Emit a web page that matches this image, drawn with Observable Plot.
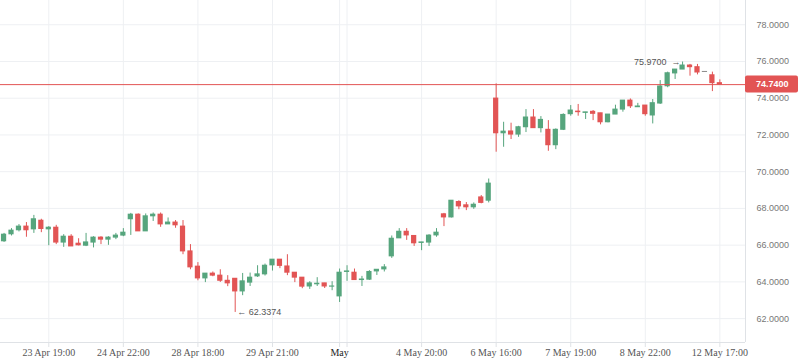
<!DOCTYPE html>
<html><head><meta charset="utf-8">
<script src="https://cdn.jsdelivr.net/npm/d3@7"></script>
<script src="https://cdn.jsdelivr.net/npm/@observablehq/plot@0.6"></script>
<style>html,body{margin:0;padding:0;background:#fff;}</style>
</head><body><div id="chart"></div>
<script>
const open = [66.21,66.59,66.81,67.01,66.86,67.33,66.86,66.95,66.14,66.46,66.08,65.97,66.14,66.41,66.30,66.41,66.52,67.41,67.66,66.75,67.57,67.66,67.13,67.23,67.01,65.66,64.83,64.19,64.45,64.34,64.06,64.17,63.48,63.96,64.30,64.41,64.90,65.21,64.84,64.50,64.23,63.75,63.87,63.92,63.74,63.21,64.54,64.50,64.10,64.12,64.57,64.68,65.39,66.37,66.73,66.50,66.12,66.14,66.53,67.68,67.51,68.35,68.17,68.06,68.60,68.42,73.98,72.09,72.19,72.02,72.42,72.95,72.37,72.28,71.44,72.28,73.13,73.27,73.20,73.26,73.18,72.69,73.11,73.38,73.87,73.51,73.60,73.06,73.71,74.65,75.35,75.56,75.78,75.69,75.43,75.25,74.82];
const high = [66.64,66.90,67.12,67.23,67.62,67.41,67.01,67.08,66.57,66.57,66.35,66.64,66.46,66.46,66.46,66.64,66.90,67.73,67.70,67.70,67.75,67.75,67.48,67.34,67.34,66.03,65.05,64.45,64.54,64.66,64.34,64.17,64.46,64.48,64.88,64.97,65.21,65.21,65.48,64.50,64.23,64.01,64.23,63.92,64.01,64.70,64.88,64.70,64.30,64.61,64.66,64.94,66.50,66.90,66.90,66.50,66.15,66.57,66.90,67.73,68.42,68.42,68.32,68.30,68.70,69.60,74.78,72.69,72.64,72.47,73.38,73.38,73.00,72.78,72.33,73.15,73.60,73.66,73.23,73.33,73.18,73.11,73.62,73.87,73.96,73.72,73.60,73.93,74.96,75.42,75.56,75.97,75.84,75.84,75.43,75.42,75.00];
const low = [66.15,66.50,66.72,66.43,66.64,66.68,65.97,66.03,65.88,65.93,65.96,65.92,65.85,66.03,65.99,66.30,66.46,66.53,66.75,66.75,67.29,66.97,67.13,66.92,65.48,64.66,64.06,63.96,64.28,63.97,63.74,62.3374,63.25,63.75,64.24,64.32,64.59,64.72,64.34,63.96,63.63,63.59,63.75,63.64,63.52,62.88,64.03,64.10,63.75,64.08,64.35,64.54,65.28,66.37,66.26,65.93,65.70,65.93,66.43,67.01,67.48,67.93,67.88,67.95,68.25,68.30,71.06,71.33,71.75,71.87,72.13,72.37,72.11,71.11,71.20,72.24,73.02,73.02,72.84,72.78,72.55,72.66,73.11,73.24,73.44,73.51,73.02,72.60,73.66,74.57,75.02,75.56,75.20,75.27,75.43,74.36,74.74];
const close = [66.57,66.79,67.01,66.81,67.41,66.88,66.95,66.14,66.46,65.93,65.99,66.15,66.41,66.30,66.41,66.52,66.68,67.66,66.75,67.57,67.66,67.13,67.23,67.08,65.66,64.79,64.19,64.45,64.34,64.06,63.92,63.48,64.03,64.23,64.41,64.88,65.21,64.87,64.50,64.23,63.74,63.92,63.90,63.75,63.75,64.50,64.57,64.10,64.13,64.54,64.66,64.79,66.35,66.73,66.53,66.10,66.15,66.52,66.68,67.51,68.42,68.11,68.06,68.20,68.30,69.35,72.09,72.18,72.02,72.42,72.95,72.37,72.82,71.44,72.28,73.09,73.33,73.24,73.23,73.15,72.69,73.11,73.38,73.87,73.56,73.55,73.13,73.73,74.64,75.36,75.56,75.78,75.69,75.40,75.43,74.82,74.74];

const xTickIdx = [6,16,26,36,46,56,66,76,86,96];
const xTickLabels = ["23 Apr 19:00","24 Apr 22:00","28 Apr 18:00","29 Apr 21:00","","4 May 20:00","6 May 16:00","7 May 19:00","8 May 22:00","12 May 17:00"];
const monthIdx = [45];
const monthLabels = ["May"];
const yTicks = [62,64,66,68,70,72,74,76,78];
const lastPrice = 74.74;
const lowNote = {i: 31, v: 62.3374};
const highNote = {i: 91, v: 75.97};

const GREEN = "#56a57d", RED = "#e25454", GRAY = "#8a8a8a", GRID = "#eef0f3", AXIS = "#dfe2e6";
const xMin = -0.477, xMax = 99.44, yMin = 60.70, yMax = 79.32;

const candles = open.map((o, i) => ({i, o, h: high[i], l: low[i], c: close[i]}));
const up = candles.filter(d => d.c > d.o);
const down = candles.filter(d => d.c < d.o);
const flat = candles.filter(d => d.c === d.o);

function candleMarks(data, color) {
  return [
    Plot.ruleX(data, {x: "i", y1: "l", y2: "h", stroke: color, strokeWidth: 1}),
    Plot.rect(data, {x1: d => d.i - 0.35, x2: d => d.i + 0.35, y1: d => Math.min(d.o, d.c), y2: d => Math.max(d.o, d.c), fill: color, insetTop: -0.5, insetBottom: -0.5})
  ];
}

const labelFont = "Liberation Serif, Times New Roman, serif";
const numFont = "Liberation Sans, Arial, sans-serif";

const chart = Plot.plot({
  width: 798, height: 363,
  marginLeft: 0, marginRight: 53, marginTop: 0, marginBottom: 21,
  x: {domain: [xMin, xMax]},
  y: {domain: [yMin, yMax], axis: null},
  style: {background: "white", overflow: "visible"},
  marks: [
    Plot.ruleY(yTicks, {stroke: GRID}),
    Plot.ruleX(xTickIdx.concat(monthIdx), {stroke: GRID}),
    Plot.ruleX([xMax], {stroke: AXIS}),
    Plot.ruleY([yMin], {stroke: AXIS}),
    Plot.axisX({ticks: xTickIdx.concat(monthIdx), tickSize: 5, tickFormat: () => "", stroke: AXIS, label: null}),
    ...candleMarks(up, GREEN),
    ...candleMarks(down, RED),
    ...candleMarks(flat, GRAY),
    Plot.ruleY([lastPrice], {stroke: RED, strokeWidth: 1}),
    Plot.text(xTickIdx.map((d, k) => ({i: d, t: xTickLabels[k]})), {x: "i", text: "t", frameAnchor: "bottom", dy: 13, fill: "#555", fontSize: 10, fontFamily: labelFont}),
    Plot.text(monthIdx.map((d, k) => ({i: d, t: monthLabels[k]})), {x: "i", text: "t", frameAnchor: "bottom", dy: 13, fill: "#222", fontSize: 10, fontFamily: labelFont}),
    Plot.text(yTicks, {y: d => d, text: d => d.toFixed(4), frameAnchor: "right", textAnchor: "start", dx: 11, fill: "#777", fontSize: 9, fontFamily: numFont}),
    Plot.text([lowNote], {x: "i", y: "v", text: d => "\u2190 " + d.v.toFixed(4), textAnchor: "start", dx: 2, fill: "#555", fontSize: 9, fontFamily: numFont}),
    Plot.text([highNote], {x: "i", y: "v", text: d => d.v.toFixed(4) + "  \u2192", textAnchor: "end", dx: -2, fill: "#555", fontSize: 9, fontFamily: numFont})
  ]
});
document.getElementById("chart").appendChild(chart);

// last price tag on the right axis
const svg = d3.select(chart);
const yp = chart.scale("y").apply(lastPrice);
const xp = chart.scale("x").apply(xMax);
const g = svg.append("g");
g.append("rect").attr("x", xp).attr("y", yp - 8.5).attr("width", 798 - xp).attr("height", 17).attr("rx", 2).attr("fill", RED);
g.append("text").attr("x", xp + 11).attr("y", yp).attr("dy", "0.35em").attr("text-anchor", "start").attr("fill", "#fff").attr("font-size", 9).attr("font-weight", "bold").attr("font-family", numFont).text(lastPrice.toFixed(4));
</script></body></html>
